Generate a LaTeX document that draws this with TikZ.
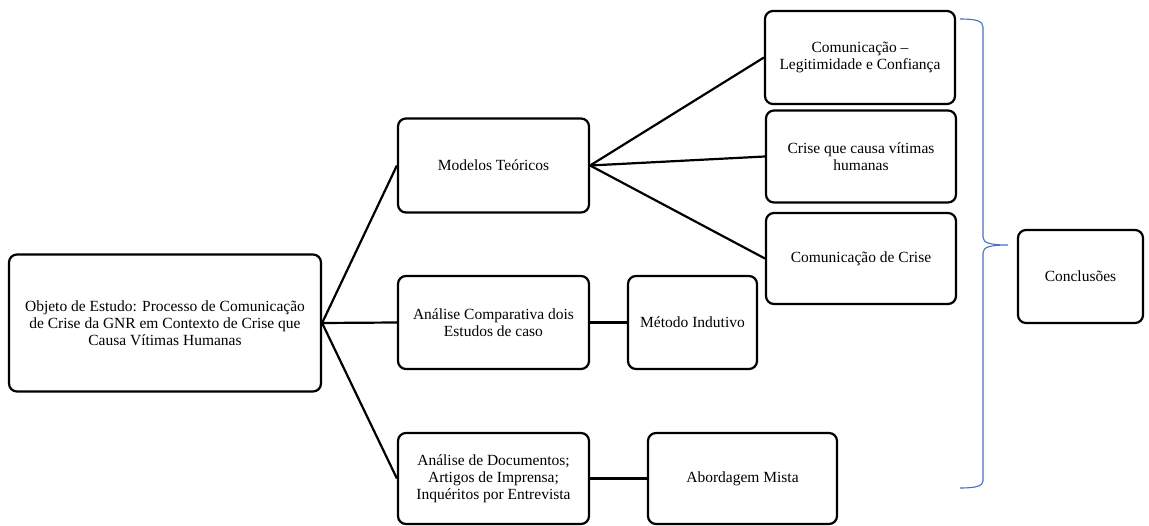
\documentclass[tikz,border=0pt]{standalone}
\usepackage{fontspec}
\setmainfont{Liberation Serif}
\usetikzlibrary{shapes.misc}
\definecolor{braceblue}{HTML}{4472C4}

\begin{document}
\begin{tikzpicture}[x=1pt,y=-1pt]
\useasboundingbox (0,0) rectangle (1149,526);
\begin{scope}[every node/.style={rectangle,rounded corners=8pt,line width=2.2pt,draw,
              align=center,inner sep=2pt,font=\fontsize{15.5}{17}\selectfont}]
    \node[minimum width=312pt,minimum height=137pt] (O) at (165,323) {Objeto de Estudo: Processo de Comunicação\\de Crise da GNR em Contexto de Crise que\\Causa Vítimas Humanas};
    \node[minimum width=191pt,minimum height=94pt] (M) at (493.5,165.5) {Modelos Teóricos};
    \node[minimum width=191pt,minimum height=93pt] (A1) at (493.5,322.5) {Análise Comparativa dois\\Estudos de caso};
    \node[minimum width=191pt,minimum height=91pt] (A2) at (493.5,478.5) {Análise de Documentos;\\Artigos de Imprensa;\\Inquéritos por Entrevista};
    \node[minimum width=129pt,minimum height=93pt] (B1) at (692.5,322.5) {Método Indutivo};
    \node[minimum width=189pt,minimum height=91pt] (B2) at (742.5,478.5) {Abordagem Mista};
    \node[minimum width=190pt,minimum height=93pt] (C1) at (860,57.5) {Comunicação –\\Legitimidade e Confiança};
    \node[minimum width=190pt,minimum height=92pt] (C2) at (861,156.5) {Crise que causa vítimas\\humanas};
    \node[minimum width=190pt,minimum height=91pt] (C3) at (861,258.5) {Comunicação de Crise};
    \node[minimum width=125pt,minimum height=93pt] (D) at (1080.5,276.5) {Conclusões};
\end{scope}
\begin{scope}[every edge/.style={draw=black,line width=2.2pt}]
    \path [-] (O.east) edge (M.west);
    \path [-] (O.east) edge (A1.west);
    \path [-] (O.east) edge (A2.west);
    \path [-] (M.east) edge (C1.west);
    \path [-] (M.east) edge (C2.west);
    \path [-] (M.east) edge (C3.west);
    \path [-] (A1.east) edge (B1.west);
    \path [-] (A2.east) edge (B2.west);
\end{scope}
% brace
\draw[braceblue,line width=1.1pt] (960,19) .. controls (976,19) and (983,21) .. (983,27)
    -- (983,237) .. controls (983,243) and (990,245) .. (1008,245)
    .. controls (990,245) and (983,247) .. (983,253)
    -- (983,481) .. controls (983,486) and (976,488) .. (960,488);
\end{tikzpicture}
\end{document}
